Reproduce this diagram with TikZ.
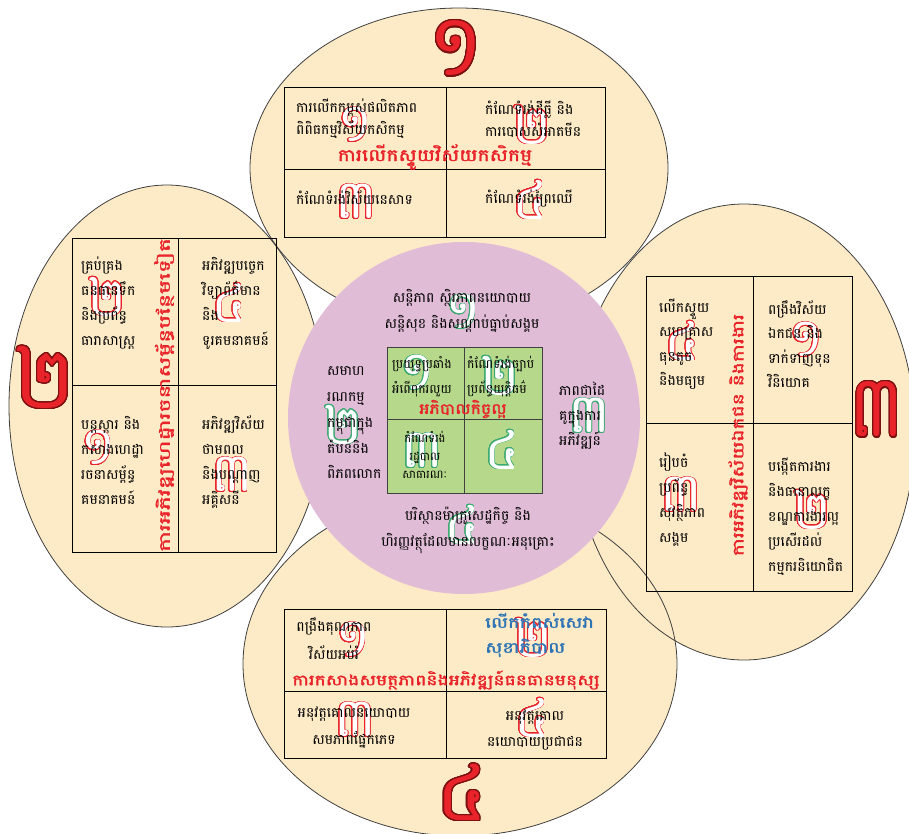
\documentclass[tikz,border=0pt]{standalone}
\usepackage{fontspec}
\usepackage{graphicx}
\usepackage{contour}
\newfontfamily\kh[Script=Khmer]{Battambang}
\newfontfamily\khb[Script=Khmer,FakeBold=1.6]{Battambang}
\newcommand\kfs[2]{\kh\fontsize{#1}{#2}\selectfont}
\newcommand\kbfs[2]{\khb\fontsize{#1}{#2}\selectfont}
\contourlength{0.8pt}
\contournumber{24}
\definecolor{beige}{HTML}{FDEAC6}
\definecolor{mauve}{HTML}{E1BCD7}
\definecolor{sqgreen}{HTML}{B6D88A}
\definecolor{kred}{HTML}{E8232A}
\definecolor{kblue}{HTML}{2F75B5}
\definecolor{ngreen}{HTML}{3DAA73}
\definecolor{edge}{HTML}{404040}
\definecolor{dred}{HTML}{7A1010}
\newcommand\rnum[1]{\contour{kred}{\textcolor{white}{#1}}}
\newcommand\gnum[1]{\contour{ngreen}{\textcolor{white}{#1}}}
\newcommand\bnum[1]{{\contourlength{1.3pt}\contour{dred}{\textcolor{kred}{#1}}}}
\tikzset{
  body/.style={inner sep=0pt, align=left, anchor=west, text=black},
  cbody/.style={inner sep=0pt, align=center, text=black},
  ttl/.style={inner sep=0pt, text=kred},
  onum/.style={inner sep=0pt, font=\kfs{54}{54}},
  bignum/.style={inner sep=0pt, font=\kfs{86}{86}},
  oval/.style={fill=beige},
  ovaledge/.style={draw=edge, line width=0.8pt},
  grid/.style={draw=black, line width=0.9pt},
}
\begin{document}
\begin{tikzpicture}[x=1pt,y=-1pt]
\clip (0,0) rectangle (909,833);
\fill[white] (0,0) rectangle (909,833);
% ovals
\fill[oval] (459,168) ellipse [x radius=209pt, y radius=160pt];
\fill[oval] (167,406) ellipse [x radius=158pt, y radius=221pt];
\fill[oval] (744,432) ellipse [x radius=171pt, y radius=228pt];
\fill[oval] (460,664) ellipse [x radius=217pt, y radius=172pt];
\draw[ovaledge] (459,168) ellipse [x radius=209pt, y radius=160pt];
\draw[ovaledge] (167,406) ellipse [x radius=158pt, y radius=221pt];
\draw[ovaledge] (744,432) ellipse [x radius=171pt, y radius=228pt];
\draw[ovaledge] (460,664) ellipse [x radius=217pt, y radius=172pt];
% central circle
\fill[mauve] (464,418) circle [radius=176pt];
% tables
\draw[grid] (284,87) rectangle (605,237);
\draw[grid] (446,87) -- (446,237) (284,169) -- (605,169);
\draw[grid] (72,238) rectangle (276,552);
\draw[grid] (178,238) -- (178,552) (72,385) -- (276,385);
\draw[grid] (646,276) rectangle (852,591);
\draw[grid] (753,276) -- (753,591) (646,423) -- (852,423);
\draw[grid] (284,609) rectangle (606,758);
\draw[grid] (446,609) -- (446,758) (284,691) -- (606,691);
\filldraw[fill=sqgreen, draw=edge, line width=0.9pt] (387,347) rectangle (542,493);
\draw[draw=edge, line width=0.9pt] (464,347) -- (464,493) (387,419) -- (542,419);
% big numerals on ovals
\node[bignum] (N1) at (456,49) {\bnum{១}};
\node[bignum] (N2) at (45,378) {\bnum{២}};
\node[bignum] (N3) at (877,410) {\scalebox{0.82}[1]{\bnum{៣}}};
\node[bignum, font=\kfs{78}{78}] (N4) at (462,793) {\bnum{៤}};
% outlined numerals: top table
\node[onum] (ta) at (355,125) {\rnum{១}};
\node[onum] (tb) at (532,125) {\rnum{២}};
\node[onum] (tc) at (356,202) {\rnum{៣}};
\node[onum] (td) at (530,200) {\rnum{៤}};
% left table
\node[onum] (la) at (107,297) {\rnum{២}};
\node[onum] (lb) at (229,303) {\rnum{៤}};
\node[onum] (lc) at (98,448) {\rnum{១}};
\node[onum] (ld) at (232,475) {\rnum{៣}};
% right table
\node[onum] (ra) at (682,341) {\rnum{៤}};
\node[onum] (rb) at (806,340) {\rnum{១}};
\node[onum] (rc) at (681,495) {\rnum{៣}};
\node[onum] (rd) at (812,510) {\rnum{២}};
% bottom table
\node[onum] (ba) at (353,640) {\rnum{១}};
\node[onum] (bb) at (533,638) {\rnum{២}};
\node[onum] (bc) at (355,720) {\rnum{៣}};
\node[onum] (bd) at (532,718) {\rnum{៤}};
% circle numerals
\node[onum] (ca) at (463,312) {\gnum{១}};
\node[onum] (cb) at (343,425) {\gnum{២}};
\node[onum] (cc) at (589,416) {\gnum{៣}};
\node[onum] (cd) at (462,525) {\gnum{៤}};
\node[onum] (ga) at (417,373) {\gnum{១}};
\node[onum] (gb) at (500,376) {\gnum{២}};
\node[onum] (gc) at (422,451) {\gnum{៣}};
\node[onum] (gd) at (502,450) {\gnum{៤}};
% top table texts
\node[body, font=\kfs{14}{22}] (t1) at (296,119) {ការលើកកម្ពស់ផលិតភាព\\ពិពិធកម្មវិស័យកសិកម្ម};
\node[body, font=\kfs{14}{22}] (t2) at (485,119) {កំណែទំរង់ដីធ្លី និង\\ការបោសសំអាតមីន};
\node[ttl, font=\kbfs{17}{20}] (tt) at (435,157) {\scalebox{1.2}[1]{ការលើកស្ទួយវិស័យកសិកម្ម}};
\node[body, font=\kfs{14}{22}] (t3) at (296,198) {កំណែទំរង់វិស័យនេសាទ};
\node[body, font=\kfs{14}{22}] (t4) at (485,198) {កំណែទំរង់ព្រៃឈើ};
% left table texts
\node[body, font=\kfs{14}{25}] (l1) at (81,303) {គ្រប់គ្រង\\ធនធានទឹក\\និងប្រព័ន្ធ\\ធារាសាស្ត្រ};
\node[body, font=\kfs{14}{25}] (l2) at (202,303) {អភិវឌ្ឍបច្ចេក\\វិទ្យាព័ត៌មាន\\និង\\ទូរគមនាគមន៍};
\node[body, font=\kfs{14}{25}] (l3) at (81,460) {បន្តស្តារ និង\\កសាងហេដ្ឋា\\រចនាសម្ព័ន្ធ\\គមនាគមន៍};
\node[body, font=\kfs{14}{25}] (l4) at (202,462) {អភិវឌ្ឍវិស័យ\\ថាមពល\\និងបណ្តាញ\\អគ្គិសនី};
\node[ttl, rotate=90, font=\kbfs{15}{18}] (lt) at (164,395) {\scalebox{1.56}[1]{ការអភិវឌ្ឍហេដ្ឋារចនាសម្ព័ន្ធបន្ថែមទៀត}};
% right table texts
\node[body, font=\kfs{14}{24.5}] (r1) at (659,344) {លើកស្ទួយ\\សហគ្រាស\\ធុនតូច\\និងមធ្យម};
\node[body, font=\kfs{14}{24.5}] (r2) at (768,344) {ពង្រឹងវិស័យ\\ឯកជន និង\\ទាក់ទាញទុន\\វិនិយោគ};
\node[body, font=\kfs{14}{25}] (r3) at (659,500) {រៀបចំ\\ប្រព័ន្ធ\\សុវត្ថិភាព\\សង្គម};
\node[body, font=\kfs{14}{25}] (r4) at (768,517) {បង្កើតការងារ\\និងធានាលក្ខ\\ខណ្ឌការងារល្អ\\ប្រសើរដល់\\កម្មករនិយោជិត};
\node[ttl, rotate=90, font=\kbfs{15}{18}] (rt) at (738,435) {\scalebox{1.35}[1]{ការអភិវឌ្ឍវិស័យឯកជន និងការងារ}};
% bottom table texts
\node[cbody, font=\kfs{14}{28}] (b1) at (334,639) {ពង្រឹងគុណភាព\\វិស័យអប់រំ};
\node[body, text=kblue, font=\kbfs{15}{25}] (b2) at (485,635) {\scalebox{1.28}[1]{លើកកំពស់សេវា}\\\scalebox{1.28}[1]{សុខាភិបាល}};
\node[ttl, font=\kbfs{15}{18}] (bt) at (446,680) {\scalebox{1.25}[1]{ការកសាងសមត្ថភាពនិងអភិវឌ្ឍន៍ធនធានមនុស្ស}};
\node[cbody, font=\kfs{14}{27}] (b3) at (354,728) {អនុវត្តគោលនយោបាយ\\សមភាពផ្នែកភេទ};
\node[cbody, font=\kfs{14}{26}] (b4) at (535,730) {អនុវត្តគោល\\នយោបាយប្រជាជន};
% circle texts
\node[cbody, font=\kfs{14}{26}] (c1) at (462,311) {សន្តិភាព ស្ថិរភាពនយោបាយ\\សន្តិសុខ និងសណ្តាប់ធ្នាប់សង្គម};
\node[body, font=\kfs{14}{25.75}] (c2) at (327,423) {សមាហ\\រណកម្ម\\កម្ពុជាក្នុង\\តំបន់និង\\ពិភពលោក};
\node[body, font=\kfs{14}{25}] (c3) at (559,416) {ភាពជាដៃ\\គូក្នុងការ\\អភិវឌ្ឍន៍};
\node[cbody, font=\kfs{14}{26}] (c4) at (468,530) {បរិស្ថានម៉ាក្រូសេដ្ឋកិច្ច និង\\ហិរញ្ញវត្ថុដែលមានលក្ខណៈអនុគ្រោះ};
\node[body, font=\kfs{12.5}{25}] (g1) at (392,377) {ប្រយុទ្ធប្រឆាំង\\អំពើពុករលួយ};
\node[body, font=\kfs{12.5}{25}] (g2) at (467,377) {កំណែទំរង់ច្បាប់\\ប្រព័ន្ធយុត្តិធម៌};
\node[ttl, font=\kbfs{15}{18}] (gt) at (463,409) {\scalebox{1.15}[1]{អភិបាលកិច្ចល្អ}};
\node[cbody, font=\kfs{11.5}{18}] (g3) at (425,455) {កំណែទំរង់\\រដ្ឋបាល\\សាធារណៈ};
\end{tikzpicture}
\end{document}
